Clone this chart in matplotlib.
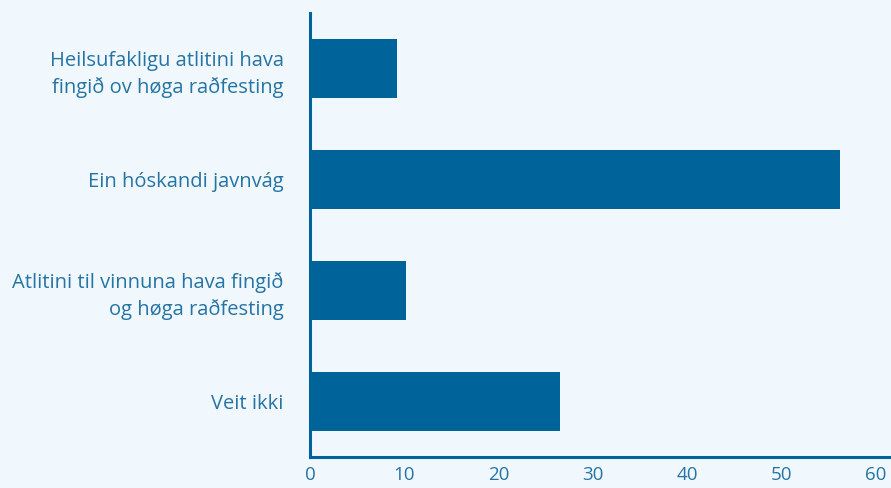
import numpy as np
import matplotlib
matplotlib.use("Agg")
import matplotlib.pyplot as plt

labels = ["Heilsufakligu atlitini hava\nfingið ov høga raðfesting",
          "Ein hóskandi javnvág",
          "Atlitini til vinnuna hava fingið\nog høga raðfesting",
          "Veit ikki"]
values = [9.2, 56.2, 10.2, 26.5]
xticks = [0, 10, 20, 30, 40, 50, 60]

bg = "#f0f8fe"
bar_col = "#00649a"
txt_col = "#2674a4"

plt.rcParams['font.family'] = ['Open Sans', 'DejaVu Sans']

fig = plt.figure(figsize=(8.91, 4.88), dpi=100, facecolor=bg)
ax = fig.add_axes([310/891, 1 - 457/488, 1 - 310/891, 444/488])
ax.set_facecolor(bg)

y = np.arange(len(labels))
ax.barh(y, values, height=0.54, color=bar_col)
ax.set_ylim(len(labels) - 0.5, -0.5)
ax.set_xlim(0, 581/9.43)
ax.set_xticks(xticks)
ax.set_yticks(y)
ax.set_yticklabels(labels, fontsize=14.5, color=txt_col, ha='right', linespacing=1.4)
ax.tick_params(axis='x', length=0, pad=6.5, labelsize=13.5, labelcolor=txt_col)
ax.tick_params(axis='y', length=0, pad=19)

for s in ['top', 'right']:
    ax.spines[s].set_visible(False)
for s in ['left', 'bottom']:
    ax.spines[s].set_color(bar_col)
    ax.spines[s].set_linewidth(2.2)

fig.savefig("out.png", dpi=100, facecolor=bg)
